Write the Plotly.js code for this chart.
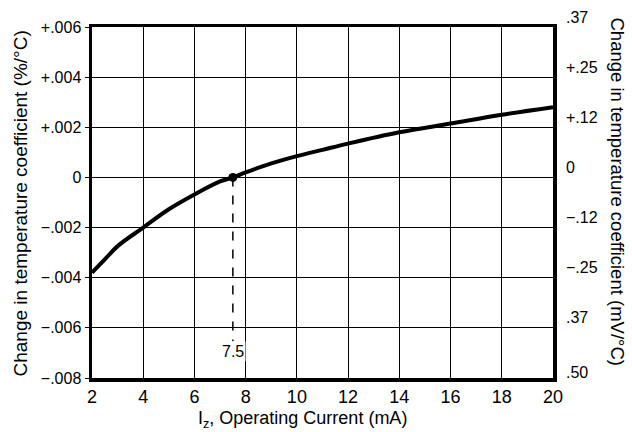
<!DOCTYPE html>
<html>
<head>
<meta charset="utf-8">
<script src="https://cdn.plot.ly/plotly-3.0.1.min.js"></script>
<style>html,body{margin:0;padding:0;background:#fff;}#chart{width:632px;height:432px;}</style>
</head>
<body>
<div id="chart"></div>
<script>
// Data
var currentMA = [2, 2.5, 3, 4, 5, 6, 7, 7.5, 8, 9, 10, 11, 12, 14, 16, 18, 20];
var tempCoefPct = [-0.0038, -0.00327, -0.00274, -0.0020, -0.00127, -0.00068, -0.00016, 0, 0.0002, 0.00056, 0.00085, 0.0011, 0.00135, 0.0018, 0.00215, 0.0025, 0.0028];
var zeroPointX = [7.5];
var zeroPointY = [0];
var dashBottomY = -0.00653;
var xTicks = [2, 4, 6, 8, 10, 12, 14, 16, 18, 20];
var yTicks = [0.006, 0.004, 0.002, 0, -0.002, -0.004, -0.006, -0.008];
var yTickText = ['+.006', '+.004', '+.002', '0', '\u2212.002', '\u2212.004', '\u2212.006', '\u2212.008'];
var rightTickText = ['.37', '+.25', '+.12', '0', '\u2212.12', '\u2212.25', '.37', '.50'];

var FONT = 'Liberation Sans, Arial, sans-serif';

var traces = [
  {x: currentMA, y: tempCoefPct, mode: 'lines', line: {color: '#000', width: 4, shape: 'spline'}, hoverinfo: 'skip'},
  {x: zeroPointX, y: zeroPointY, mode: 'markers', marker: {color: '#000', size: 9}, hoverinfo: 'skip'}
];

var annotations = [];
for (var i = 0; i < yTicks.length; i++) {
  annotations.push({
    xref: 'paper', yref: 'y', x: 1, y: yTicks[i], xanchor: 'left', yanchor: 'middle',
    xshift: 11, yshift: (i === yTicks.length - 1 ? 6 : 10),
    text: rightTickText[i], showarrow: false, font: {family: FONT, size: 16, color: '#000'}
  });
}
annotations.push({
  xref: 'x', yref: 'y', x: zeroPointX[0], y: dashBottomY, xanchor: 'center', yanchor: 'top',
  yshift: 0, text: '7.5', showarrow: false, bgcolor: '#fff', borderpad: 1,
  font: {family: FONT, size: 16, color: '#000'}
});
annotations.push({
  xref: 'paper', yref: 'paper', x: 0, y: 0.5, xshift: -72, yshift: -1, textangle: -90,
  xanchor: 'center', yanchor: 'middle', showarrow: false,
  text: 'Change in temperature coefficient (%/°C)', font: {family: FONT, size: 19, color: '#000'}
});
annotations.push({
  xref: 'paper', yref: 'paper', x: 1, y: 0.5, xshift: 64, yshift: 11, textangle: 90,
  xanchor: 'center', yanchor: 'middle', showarrow: false,
  text: 'Change in temperature coefficient (mV/°C)', font: {family: FONT, size: 18.5, color: '#000'}
});
annotations.push({
  xref: 'paper', yref: 'paper', x: 0.5, y: 0, xshift: -20, yshift: -41,
  xanchor: 'center', yanchor: 'middle', showarrow: false,
  text: 'I<sub>z</sub>, Operating Current (mA)', font: {family: FONT, size: 18, color: '#000'}
});

var layout = {
  width: 632, height: 432,
  margin: {l: 92, r: 79, t: 27, b: 54},
  paper_bgcolor: '#fff', plot_bgcolor: '#fff',
  showlegend: false,
  font: {family: FONT, size: 15, color: '#000'},
  xaxis: {
    range: [2, 20], tickvals: xTicks, ticktext: xTicks.map(String),
    tickfont: {family: FONT, size: 18, color: '#000'},
    showgrid: true, gridcolor: '#000', gridwidth: 1,
    showline: true, linecolor: '#000', linewidth: 3.5, mirror: true,
    ticks: '', zeroline: false, fixedrange: true
  },
  yaxis: {
    range: [-0.008, 0.006], tickvals: yTicks, ticktext: yTickText,
    tickfont: {family: FONT, size: 16, color: '#000'},
    showgrid: true, gridcolor: '#000', gridwidth: 1,
    showline: true, linecolor: '#000', linewidth: 3.5, mirror: true,
    ticks: 'outside', ticklen: 4, tickcolor: '#000', zeroline: false, fixedrange: true
  },
  shapes: [{
    type: 'line', xref: 'x', yref: 'y', x0: zeroPointX[0], x1: zeroPointX[0], y0: zeroPointY[0], y1: dashBottomY,
    line: {color: '#000', width: 1.5, dash: 'dash'}
  }],
  annotations: annotations
};

Plotly.newPlot('chart', traces, layout, {displayModeBar: false, staticPlot: true});
</script>
</body>
</html>
